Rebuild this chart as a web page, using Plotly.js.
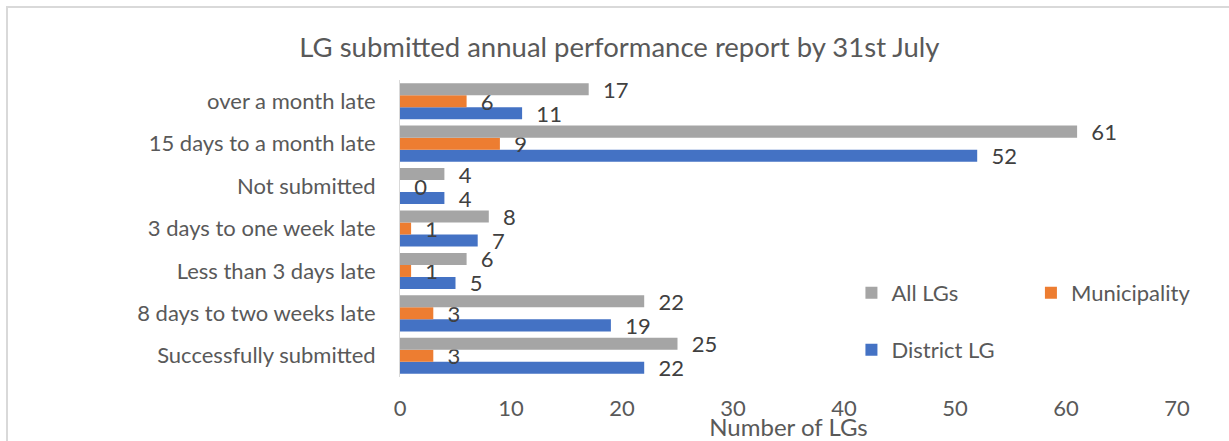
<!DOCTYPE html>
<html>
<head>
<meta charset="utf-8">
<script src="https://cdn.plot.ly/plotly-3.0.1.min.js"></script>
<style>
  html, body { margin: 0; padding: 0; background: #ffffff; overflow: hidden; width: 1229px; height: 441px; }
  #frame { position: absolute; left: 6px; top: 6px; width: 1300px; height: 500px; border: 2px solid #D9D9D9; box-sizing: border-box; }
  #chart { position: absolute; left: 0; top: 0; width: 1229px; height: 441px; }
</style>
</head>
<body>
<div id="frame"></div>
<div id="chart"></div>
<script>
// Categories (bottom to top as drawn)
const categories = [
  "Successfully submitted",
  "8 days to two weeks late",
  "Less than 3 days late",
  "3 days to one week late",
  "Not submitted",
  "15 days to a month late",
  "over a month late"
];
const districtLG   = [22, 19, 5, 7, 4, 52, 11];
const municipality = [3, 3, 1, 1, 0, 9, 6];
const allLGs       = [25, 22, 6, 8, 4, 61, 17];
const xTicks = [0, 10, 20, 30, 40, 50, 60, 70];

const FONT = "Lato, 'Liberation Sans', sans-serif";
const labelTpl = "\u00a0\u00a0%{x}";

function barTrace(name, values, color, legendId) {
  return {
    type: "bar",
    orientation: "h",
    name: name,
    x: values,
    y: categories,
    marker: { color: color },
    texttemplate: labelTpl,
    textposition: "outside",
    constraintext: "none",
    cliponaxis: false,
    textfont: { family: FONT, size: 22, color: "#404040" },
    hoverinfo: "x+name",
    legend: legendId
  };
}

const data = [
  barTrace("District LG", districtLG, "#4472C4", "legend3"),
  barTrace("Municipality", municipality, "#ED7D31", "legend2"),
  barTrace("All LGs", allLGs, "#A5A5A5", "legend")
];

const legendCommon = {
  font: { family: FONT, size: 22, color: "#595959" },
  bgcolor: "rgba(0,0,0,0)",
  borderwidth: 0,
  xanchor: "left",
  yanchor: "middle"
};

const layout = {
  width: 1229,
  height: 441,
  paper_bgcolor: "rgba(0,0,0,0)",
  plot_bgcolor: "rgba(0,0,0,0)",
  margin: { l: 400, r: 52, t: 80, b: 64, pad: 0 },
  barmode: "group",
  bargap: 0.15,
  bargroupgap: 0,
  font: { family: FONT, size: 22, color: "#595959" },
  title: {
    text: "LG submitted annual performance report by 31st July",
    font: { family: FONT, size: 27.5, color: "#595959" },
    x: 0.504, xanchor: "center",
    xref: "container", yref: "container",
    y: 0.893, yanchor: "middle"
  },
  xaxis: {
    range: [0, 70],
    tickvals: xTicks,
    ticktext: xTicks.map(String),
    showgrid: false,
    zeroline: false,
    showline: false,
    ticks: "outside",
    ticklen: 12,
    tickcolor: "rgba(0,0,0,0)",
    tickfont: { family: FONT, size: 22, color: "#595959" },
    title: { text: "Number of LGs", font: { family: FONT, size: 24, color: "#595959" }, standoff: 0 },
    fixedrange: true
  },
  yaxis: {
    type: "category",
    categoryorder: "array",
    categoryarray: categories,
    showgrid: false,
    zeroline: false,
    showline: true,
    linecolor: "#D9D9D9",
    linewidth: 1,
    ticks: "outside",
    ticklen: 19,
    tickcolor: "rgba(0,0,0,0)",
    tickfont: { family: FONT, size: 22, color: "#595959" },
    fixedrange: true
  },
  showlegend: true,
  legend:  Object.assign({}, legendCommon, { x: 0.581, y: 0.283 }),
  legend2: Object.assign({}, legendCommon, { x: 0.812, y: 0.283 }),
  legend3: Object.assign({}, legendCommon, { x: 0.581, y: 0.091 })
};

Plotly.newPlot("chart", data, layout, { displayModeBar: false, staticPlot: true });
</script>
</body>
</html>
